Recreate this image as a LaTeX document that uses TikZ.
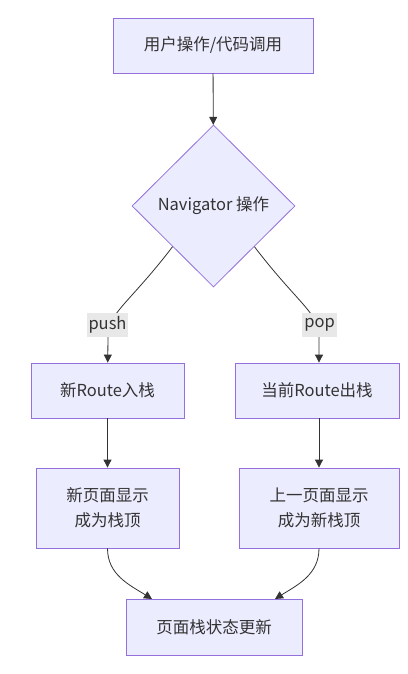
\documentclass[tikz,border=0pt]{standalone}
\usepackage{fontspec}
\setmainfont{Noto Sans CJK SC}
\usetikzlibrary{shapes.geometric,arrows.meta}
\definecolor{boxfill}{HTML}{ECECFF}
\definecolor{boxline}{HTML}{9370DB}
\definecolor{ink}{HTML}{333333}
\definecolor{tagfill}{HTML}{E8E8E8}
\begin{document}
\begin{tikzpicture}[x=1pt,y=-1pt,
    font=\fontsize{16.5}{25}\selectfont, text=ink,
    box/.style={draw=boxline,fill=boxfill,line width=.8pt,align=center,inner sep=0pt},
    decision/.style={diamond,draw=boxline,fill=boxfill,line width=.8pt,inner sep=0pt,
      minimum width=163pt,minimum height=162pt},
    tag/.style={fill=tagfill,inner sep=2pt,minimum height=24pt},
    link/.style={draw=ink,line width=.8pt,-{Triangle[length=8pt,width=8pt]}}]
  \useasboundingbox (0,0) rectangle (407,674);
  \node[box,minimum width=200pt,minimum height=55pt] (user) at (213,45.5) {用户操作/代码调用};
  \node[decision] (nav) at (213.5,206) {Navigator 操作};
  \node[box,minimum width=153pt,minimum height=55pt] (pushed) at (107.5,390.5) {新Route入栈};
  \node[box,minimum width=164pt,minimum height=55pt] (popped) at (317,390.5) {当前Route出栈};
  \node[box,minimum width=143pt,minimum height=80pt] (newtop) at (107.5,508) {新页面显示\\成为栈顶};
  \node[box,minimum width=160pt,minimum height=80pt] (oldtop) at (319,508) {上一页面显示\\成为新栈顶};
  \node[box,minimum width=176pt,minimum height=56pt] (update) at (214,627) {页面栈状态更新};
  \coordinate (pushat) at (108,334);
  \coordinate (popat) at (319,334);
  \coordinate (inleft) at (152,599);
  \coordinate (inright) at (275,599);
  % edges
  \draw[link] (user) -- (nav);
  \draw[link] (nav.south west) .. controls (132,300) and (108,314) .. (pushat) -- (pushed);
  \draw[link] (nav.south east) .. controls (295,300) and (319,314) .. (popat) -- (popat |- popped.north);
  \draw[link] (pushed) -- (newtop);
  \draw[link] (popped.south -| oldtop) -- (oldtop);
  \draw[link] (newtop.south) to[out=-90,in=148] (inleft);
  \draw[link] (oldtop.south) to[out=-90,in=32] (inright);
  \node[tag] (push) at (107.5,325) {push};
  \node[tag] (pop) at (319.5,325) {pop};
\end{tikzpicture}
\end{document}
